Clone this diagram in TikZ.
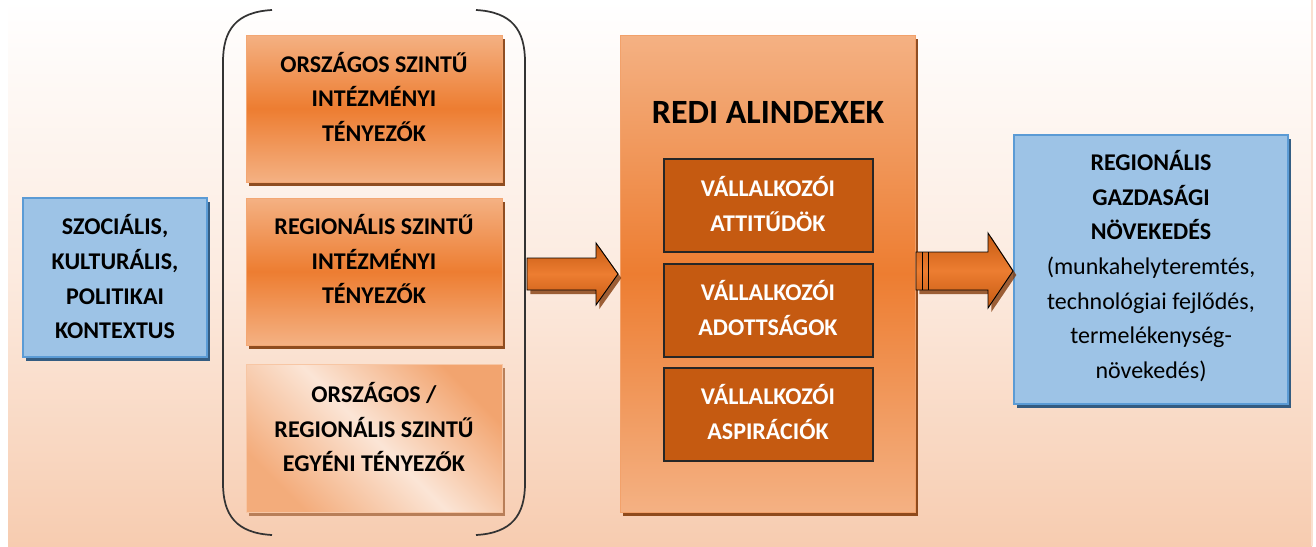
\documentclass[tikz,border=0pt]{standalone}
\usepackage{fontspec}
\setmainfont{Carlito}
\usetikzlibrary{shadows}
\definecolor{peach}{RGB}{247,204,176}
\definecolor{lightor}{RGB}{244,177,131}
\definecolor{midor}{RGB}{237,125,49}
\definecolor{paleor}{RGB}{251,229,214}
\definecolor{darkor}{RGB}{197,90,17}
\definecolor{brownsh}{RGB}{132,60,12}
\definecolor{bluefill}{RGB}{157,195,230}
\definecolor{blueedge}{RGB}{91,155,213}
\definecolor{blueshadow}{RGB}{31,78,121}
\tikzset{
  txt/.style={font=\bfseries\fontsize{18}{26}\selectfont, align=center, inner sep=0pt},
  bluebox/.style={draw=blueedge, line width=0.8pt, fill=bluefill,
    drop shadow={shadow xshift=2.5pt, shadow yshift=-3pt, fill=blueshadow, opacity=0.9}},
  orbox/.style={draw=lightor!80!midor, line width=0.6pt, top color=lightor, bottom color=lightor, middle color=midor,
    drop shadow={shadow xshift=2.5pt, shadow yshift=-3pt, fill=brownsh, opacity=0.9}},
  palebox/.style={draw=lightor!60!paleor, line width=0.6pt, top color=lightor!75!midor, bottom color=lightor!90!midor, middle color=paleor, shading angle=-45,
    drop shadow={shadow xshift=2.5pt, shadow yshift=-3pt, fill=brownsh!60!peach, opacity=0.9}},
  darkbox/.style={draw=black!85, line width=0.8pt, fill=darkor},
  blockarrow/.style={draw=black, line width=0.7pt, top color=darkor, bottom color=darkor, middle color=midor, line join=miter,
    drop shadow={shadow xshift=2.5pt, shadow yshift=-3pt, fill=brownsh, opacity=0.8}},
  paren/.style={draw=black!80, line width=1.3pt}
}
\begin{document}
\begin{tikzpicture}[x=0.75pt, y=-0.75pt]
\useasboundingbox (0,0) rectangle (1316,546);
\shade[top color=white, bottom color=peach, middle color=peach!40!white] (8,0) rectangle (1312,546);
\draw[peach!60!white, line width=0.8pt] (1312,0) -- (1312,546);

% left context box
\path[bluebox] (23,198) rectangle (207,357);
\node[txt] (ctx) at (115,277) {SZOCIÁLIS,\\KULTURÁLIS,\\POLITIKAI\\KONTEXTUS};

% parentheses
\draw[paren] (272,10) .. controls (236,12) and (223,30) .. (223,62) -- (223,483) .. controls (223,515) and (236,533) .. (272,535);
\draw[paren] (476,10) .. controls (512,12) and (525,30) .. (525,62) -- (525,483) .. controls (525,515) and (512,533) .. (476,535);
\coordinate (brR) at (527,274);

% factor boxes
\path[orbox] (246,35) rectangle (502,182);
\node[txt] (f1) at (374,97) {ORSZÁGOS SZINTŰ\\INTÉZMÉNYI\\TÉNYEZŐK};
\path[orbox] (246,198) rectangle (502,345);
\node[txt] (f2) at (374,259) {REGIONÁLIS SZINTŰ\\INTÉZMÉNYI\\TÉNYEZŐK};
\path[palebox] (246,364) rectangle (502,512);
\node[txt] (f3) at (374,427) {ORSZÁGOS /\\REGIONÁLIS SZINTŰ\\EGYÉNI TÉNYEZŐK};

% REDI box
\path[orbox, draw=lightor!70!midor] (620,35) rectangle (915,512);
\node[txt, font=\bfseries\fontsize{25.5}{30}\selectfont] (redi) at (768,112) {REDI ALINDEXEK};
\coordinate (rediL) at (618,274);
\coordinate (rediR) at (916,271);

\path[darkbox] (664,159) rectangle (873,252);
\node[txt, text=white] (s1) at (768,204) {VÁLLALKOZÓI\\ATTITŰDÖK};
\path[darkbox] (664,264) rectangle (873,357);
\node[txt, text=white] (s2) at (768,308) {VÁLLALKOZÓI\\ADOTTSÁGOK};
\path[darkbox] (664,368) rectangle (873,461);
\node[txt, text=white] (s3) at (768,412) {VÁLLALKOZÓI\\ASPIRÁCIÓK};

% right outcome box
\path[bluebox] (1014,135) rectangle (1288,404);
\node[txt] (out) at (1151,266) {REGIONÁLIS\\GAZDASÁGI\\NÖVEKEDÉS\\{\mdseries (munkahelyteremtés,}\\{\mdseries technológiai fejlődés,}\\{\mdseries termelékenység-}\\{\mdseries növekedés)}};
\coordinate (outL) at (1013,271);

% arrow 1
\path[blockarrow] (brR |- 0,258) -- (596,258) -- (596,243) -- (rediL) -- (596,305) -- (596,290) -- (brR |- 0,290) -- cycle;
% arrow 2
\path[blockarrow] (rediR |- 0,252) -- (988,252) -- (988,233) -- (outL) -- (988,308) -- (988,290) -- (rediR |- 0,290) -- cycle;
\draw[black, line width=0.7pt] (922,252) -- (922,290) (928,252) -- (928,290);
\end{tikzpicture}
\end{document}
